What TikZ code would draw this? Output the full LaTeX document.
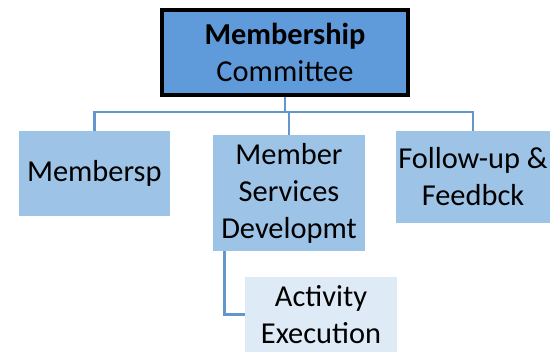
\documentclass[tikz,border=0pt]{standalone}
\usepackage{fontspec}
\setmainfont{Carlito}
\definecolor{topblue}{RGB}{95,155,218}
\definecolor{midblue}{RGB}{157,195,230}
\definecolor{lowblue}{RGB}{222,235,247}
\definecolor{lineblue}{RGB}{100,150,205}
\begin{document}
\begin{tikzpicture}[
    font=\fontsize{17.3}{21}\selectfont,
    topbox/.style={draw=black,line width=2pt,fill=topblue,align=center,inner sep=0pt},
    midbox/.style={fill=midblue,align=center,inner sep=0pt},
    lowbox/.style={fill=lowblue,align=center,inner sep=0pt},
    conn/.style={draw=lineblue,line width=1.4pt}]
            \useasboundingbox (0,0) rectangle (11.1,7.04);
            % caja superior
            \node[topbox,minimum width=4.92cm,minimum height=1.70cm] (comite) at (5.70,5.99) {\textbf{Membership}\\Committee};
            % segundo nivel
            \node[midbox,minimum width=3.03cm,minimum height=1.70cm] (membresia) at (1.886,3.57) {Membersp};
            \node[midbox,minimum width=3.04cm,minimum height=2.31cm] (servicios) at (5.78,3.18) {Member\\Services\\Developmt};
            \node[midbox,minimum width=3.08cm,minimum height=1.84cm] (seguimiento) at (9.46,3.50) {Follow-up \&\\Feedbck};
            % tercer nivel
            \node[lowbox,minimum width=3.04cm,minimum height=1.50cm] (actividad) at (6.42,0.75) {Activity\\Execution};
            % conectores
            \coordinate (barra) at (5.70,4.80);
            \draw[conn] (comite.south) -- (comite.south |- barra);
            \draw[conn] (membresia.north) |- (barra) -| (seguimiento.north);
            \draw[conn] (servicios.north) -- (servicios.north |- barra);
            \draw[conn] ([xshift=0.24cm]servicios.south west) |- (actividad.west);
            \end{tikzpicture}
\end{document}
